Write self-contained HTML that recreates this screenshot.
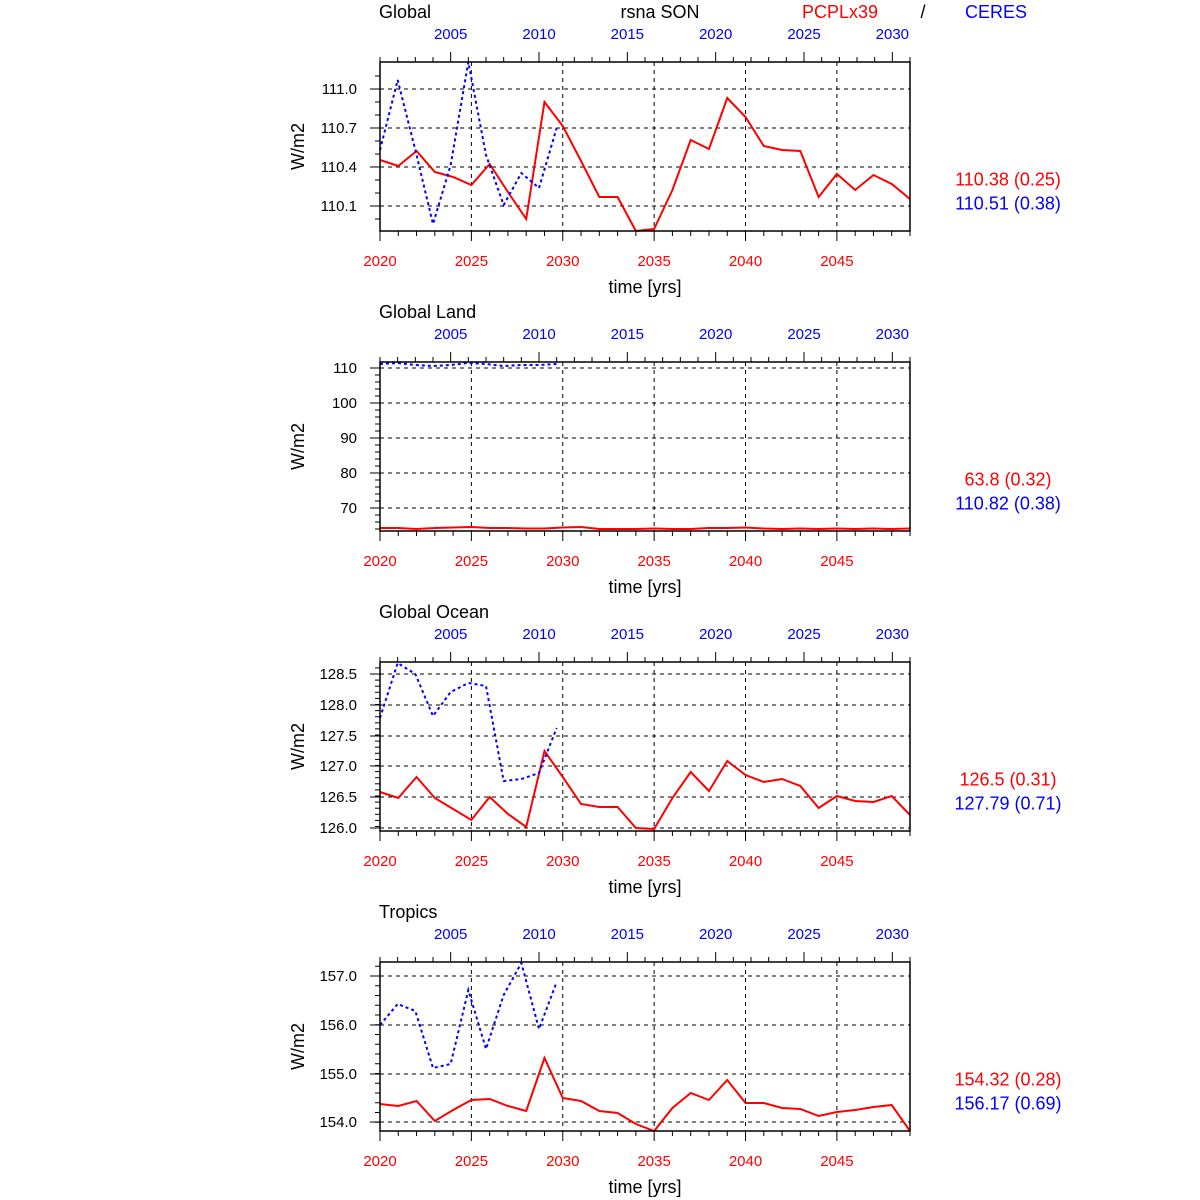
<!DOCTYPE html>
<html><head><meta charset="utf-8"><style>body{margin:0;background:#fff}svg{display:block;font-family:"Liberation Sans",sans-serif}</style></head>
<body>
<svg id="s" width="1200" height="1200" xmlns="http://www.w3.org/2000/svg"></svg>
<script>
const S=document.getElementById('s');let h='';
const L=380,R=910;
const bx=y=>L+(y-2020)*530/29, tx=y=>L+(y-2001)*530/30;
const panels=[
{t:'Global',top:62,bot:231,ticks:[[111.0,89,'111.0'],[110.7,128,'110.7'],[110.4,167,'110.4'],[110.1,206,'110.1']],minor:13,
red:[160,166,151,172,177,185,164,192,219,102,126,161,197,197,231,229,190,140,149,98,117,146,150,151,197,174,190,175,184,199],
blue:[150,80,150,224,165,62,155,205,173,188,128],v1:'110.38 (0.25)',v2:'110.51 (0.38)'},
{t:'Global Land',top:362,bot:531,ticks:[[110,368,'110'],[100,403,'100'],[90,438,'90'],[80,473,'80'],[70,508,'70']],minor:7,
red:[528,528,529,528,527.5,527,528,528,528.5,528.5,527.5,527,529,529,529,528.5,529,529,528,528,527.5,528.5,529,528.5,529,528.5,529,528.5,529,528.5],
blue:[364,363,365,366,365,363,364,366,365,365,364],v1:'63.8 (0.32)',v2:'110.82 (0.38)'},
{t:'Global Ocean',top:662,bot:831,ticks:[[1,674,'128.5'],[1,705,'128.0'],[1,736,'127.5'],[1,766,'127.0'],[1,797,'126.5'],[1,828,'126.0']],minor:6.1,
red:[792,798,777,798,809,820,797,814,827,751,777,804,807,807,828,829,798,772,791,761,775,782,779,786,808,796,801,802,796,815],
blue:[718,663,674,716,692,683,686,781,779,773,728],v1:'126.5 (0.31)',v2:'127.79 (0.71)'},
{t:'Tropics',top:962,bot:1131,ticks:[[1,976,'157.0'],[1,1025,'156.0'],[1,1074,'155.0'],[1,1122,'154.0']],minor:9.75,
red:[1104,1106,1101,1121,1110,1100,1099,1106,1111,1058,1098,1101,1111,1113,1124,1131,1108,1093,1100,1080,1103,1103,1108,1109,1116,1112,1110,1107,1105,1131],
blue:[1025,1004,1011,1068,1064,990,1049,995,963,1029,982],v1:'154.32 (0.28)',v2:'156.17 (0.69)'}];
panels.forEach((p,i)=>{
 const T=p.top,B=p.bot,mid=(T+B)/2;
 h+=`<text x="379" y="${T-44}" font-size="18">${p.t}</text>`;
 const y0=p.ticks[0][1];
 for(let k=-30;k<60;k++){const y=y0+k*p.minor;if(y<=T+1||y>=B-1)continue;
  h+=`<line x1="${L-5}" x2="${L}" y1="${y}" y2="${y}" stroke="#000"/>`;}
 p.ticks.forEach(t=>{h+=`<line x1="${L}" x2="${R}" y1="${t[1]}" y2="${t[1]}" stroke="#000" stroke-dasharray="4,4"/>`;
  h+=`<line x1="${L-10}" x2="${L}" y1="${t[1]}" y2="${t[1]}" stroke="#000"/>`;
  h+=`<text x="357" y="${t[1]+5}" font-size="15" text-anchor="end">${t[2]}</text>`;});
 [2025,2030,2035,2040,2045].forEach(y=>h+=`<line x1="${bx(y)}" x2="${bx(y)}" y1="${T}" y2="${B}" stroke="#000" stroke-dasharray="4,4"/>`);
 for(let y=2020;y<=2049;y++){const x=bx(y),big=y%5==0;
  h+=`<line x1="${x}" x2="${x}" y1="${B}" y2="${B+(big?10:5)}" stroke="#000"/>`;
  if(big)h+=`<text x="${x}" y="${B+35}" font-size="15" fill="#f00" text-anchor="middle">${y}</text>`;}
 for(let y=2001;y<=2031;y++){const x=tx(y),big=y%5==0;
  h+=`<line x1="${x}" x2="${x}" y1="${T}" y2="${T-(big?10:5)}" stroke="#000"/>`;
  if(big)h+=`<text x="${x}" y="${T-23}" font-size="15" fill="#00f" text-anchor="middle">${y}</text>`;}
 h+=`<polyline fill="none" stroke="#f00" stroke-width="2" points="${p.red.map((v,k)=>bx(2020+k)+','+v).join(' ')}"/>`;
 h+=`<polyline fill="none" stroke="#00f" stroke-width="2" stroke-dasharray="3,3" points="${p.blue.map((v,k)=>tx(2001+k)+','+v).join(' ')}"/>`;
 h+=`<rect x="${L}" y="${T}" width="${R-L}" height="${B-T}" fill="none" stroke="#000" stroke-width="1.5"/>`;
 h+=`<text x="645" y="${B+62}" font-size="18" text-anchor="middle">time [yrs]</text>`;
 h+=`<text transform="translate(304,${mid}) rotate(-90)" font-size="18" text-anchor="middle">W/m2</text>`;
 h+=`<text x="1008" y="${mid+39}" font-size="18" fill="#f00" text-anchor="middle">${p.v1}</text>`;
 h+=`<text x="1008" y="${mid+63}" font-size="18" fill="#00f" text-anchor="middle">${p.v2}</text>`;
});
h+=`<text x="660" y="18" font-size="18" text-anchor="middle">rsna SON</text><text x="840" y="18" font-size="18" fill="#f00" text-anchor="middle">PCPLx39</text><text x="923" y="18" font-size="18" text-anchor="middle">/</text><text x="996" y="18" font-size="18" fill="#00f" text-anchor="middle">CERES</text>`;
S.innerHTML=h;
</script>
</body></html>
